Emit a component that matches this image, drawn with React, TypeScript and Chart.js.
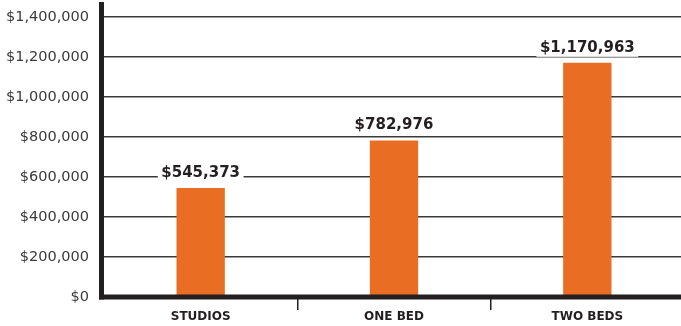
import React, { useEffect, useRef } from "react";
import { Chart, registerables } from "chart.js";

Chart.register(...registerables);

const categories = ["STUDIOS", "ONE BED", "TWO BEDS"];
const prices = [545373, 782976, 1170963];
const priceLabels = ["$545,373", "$782,976", "$1,170,963"];
const yTickValues = [0, 200000, 400000, 600000, 800000, 1000000, 1200000, 1400000];
const yMax = 1475000;

const BAR = "#EA6D24";
const AXIS = "#231f20";

const overlayPlugin = {
  id: "overlay",
  afterDatasetsDraw(chart: any) {
    const { ctx, chartArea } = chart;
    ctx.save();
    ctx.fillStyle = AXIS;
    ctx.fillRect(chartArea.left - 5, chartArea.top, 5, chartArea.bottom + 2.5 - chartArea.top);
    ctx.fillRect(chartArea.left - 5, chartArea.bottom - 2.5, chartArea.right - chartArea.left + 5, 5);

    const meta = chart.getDatasetMeta(0);
    ctx.font = "bold 15px 'DejaVu Sans'";
    ctx.textAlign = "center";
    ctx.textBaseline = "alphabetic";
    meta.data.forEach((bar: any, i: number) => {
      const text = priceLabels[i];
      const w = ctx.measureText(text).width;
      const baseline = bar.y - 11;
      ctx.fillStyle = "#ffffff";
      ctx.fillRect(bar.x - w / 2 - 3.5, baseline - 14, w + 7, 19);
      ctx.fillStyle = AXIS;
      ctx.fillText(text, bar.x, baseline);
    });
    ctx.restore();
  },
};

export default function App() {
  const ref = useRef<HTMLCanvasElement | null>(null);
  useEffect(() => {
    if (!ref.current) return;
    const chart = new Chart(ref.current, {
      type: "bar",
      data: {
        labels: categories,
        datasets: [
          {
            data: prices,
            backgroundColor: BAR,
            borderWidth: 0,
            categoryPercentage: 1,
            barPercentage: 0.25,
          },
        ],
      },
      options: {
        responsive: false,
        animation: false,
        devicePixelRatio: 1,
        layout: { padding: { top: 2, left: 0, right: 0, bottom: 0 } },
        plugins: { legend: { display: false }, tooltip: { enabled: false } },
        scales: {
          x: {
            border: { display: false },
            grid: {
              offset: true,
              drawOnChartArea: false,
              drawTicks: true,
              tickLength: 13,
              lineWidth: 1.5,
              color: (c: any) => (c.index === 0 ? "rgba(0,0,0,0)" : AXIS),
            },
            ticks: {
              padding: 0,
              color: AXIS,
              font: { family: "'DejaVu Sans'", size: 12, weight: "bold" },
            },
            afterFit(scale: any) {
              scale.height = 29;
              scale.paddingLeft = 0;
              scale.paddingRight = 0;
            },
          },
          y: {
            min: 0,
            max: yMax,
            border: { display: false },
            grid: {
              drawTicks: false,
              tickLength: 0,
              lineWidth: 1.5,
              color: "#3a3a3a",
            },
            ticks: {
              padding: 15,
              color: "#3a3a3a",
              font: { family: "'DejaVu Sans'", size: 14.5 },
              callback: (v: any) => "$" + Number(v).toLocaleString("en-US"),
            },
            afterBuildTicks(scale: any) {
              scale.ticks = yTickValues.map((v) => ({ value: v }));
            },
            afterFit(scale: any) {
              scale.width = 104;
              scale.paddingTop = 0;
              scale.paddingBottom = 0;
            },
          },
        },
      },
      plugins: [overlayPlugin],
    });
    return () => chart.destroy();
  }, []);
  return (
    <div
      style={{
        position: "fixed",
        left: 0,
        top: 0,
        width: 681,
        height: 326,
        overflow: "hidden",
        background: "#fff",
      }}
    >
      <canvas ref={ref} width={684} height={326} style={{ display: "block" }} />
    </div>
  );
}
